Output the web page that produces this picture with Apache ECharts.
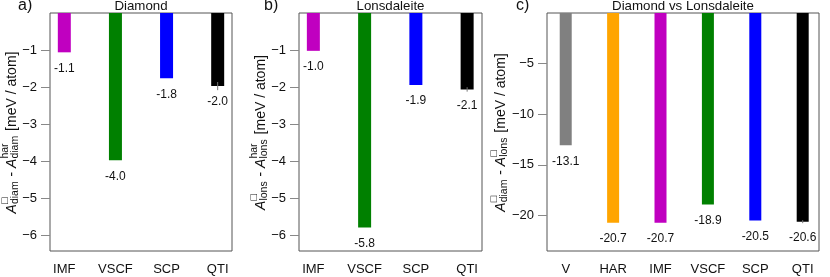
<!DOCTYPE html>
<html><head><meta charset="utf-8">
<script src="https://cdn.jsdelivr.net/npm/echarts@6/dist/echarts.min.js"></script>
<style>html,body{margin:0;padding:0;background:#fff}#c{width:830px;height:277px}</style>
</head><body><div id="c"></div>
<script>
// ---- data ----
const catsAB = ['IMF', 'VSCF', 'SCP', 'QTI'];
const catsC = ['V', 'HAR', 'IMF', 'VSCF', 'SCP', 'QTI'];
const diamondVals = [-1.06, -3.97, -1.76, -1.97];
const diamondErr = [0, 0, 0, 0.11];
const lonsVals = [-1.02, -5.78, -1.94, -2.06];
const lonsErr = [0, 0, 0, 0.06];
const diffVals = [-13.07, -20.7, -20.7, -18.9, -20.5, -20.6];
const diffErr = [0, 0, 0, 0, 0, 0.15];
const yTicksAB = [-1, -2, -3, -4, -5, -6];
const yTicksC = [-5, -10, -15, -20];
const panelTitles = ['Diamond', 'Lonsdaleite', 'Diamond vs Lonsdaleite'];
const panelTags = ['a)', 'b)', 'c)'];
const unitText = ' [meV / atom]';
const yTitleParts = [
  [{t: 'A', it: true}, {sup: '\u25A1', sub: 'diam'}, {t: ' - '}, {t: 'A', it: true}, {sup: 'har', sub: 'diam'}, {t: unitText}],
  [{t: 'A', it: true}, {sup: '\u25A1', sub: 'lons'}, {t: ' - '}, {t: 'A', it: true}, {sup: 'har', sub: 'lons'}, {t: unitText}],
  [{t: 'A', it: true}, {sup: '\u25A1', sub: 'diam'}, {t: ' - '}, {t: 'A', it: true}, {sup: '\u25A1', sub: 'lons'}, {t: unitText}]
];
const colorOf = {V: '#808080', HAR: '#FFA500', IMF: '#C000C0', VSCF: '#008000', SCP: '#0000FF', QTI: '#000000'};

// ---- layout ----
const FONT = '"Liberation Sans", Arial, sans-serif';
const TXT = '#111';
const panels = [
  {cats: catsAB, vals: diamondVals, errs: diamondErr, yt: yTicksAB, grid: {left: 50, top: 13, width: 182, height: 238}, xr: [0.72, 4.28], yr: [-6.415, 0], bw: 13},
  {cats: catsAB, vals: lonsVals, errs: lonsErr, yt: yTicksAB, grid: {left: 299, top: 13, width: 183, height: 238}, xr: [0.72, 4.29], yr: [-6.415, 0], bw: 13},
  {cats: catsC, vals: diffVals, errs: diffErr, yt: yTicksC, grid: {left: 547, top: 13, width: 272, height: 238}, xr: [0.605, 6.344], yr: [-23.5, 0], bw: 12}
];
const titleBase = [17, 266, 506];
const tagPos = [[18, 6], [264, 6], [516, 6]];

const cvs = document.createElement('canvas').getContext('2d');
function tw(text, fs, it) { cvs.font = (it ? 'italic ' : '') + fs + 'px ' + FONT; return cvs.measureText(text).width; }

function yTitle(parts, xb, yc) {
  const MF = 14, SF = 10.5, SUPDY = -8, SUBDY = 1.5;
  const items = []; let x = 0;
  parts.forEach(p => {
    if (p.t !== undefined) {
      items.push({text: p.t, x: x, dy: 0, fs: MF, it: !!p.it});
      x += tw(p.t, MF, p.it);
    } else {
      items.push({text: p.sup, x: x, dy: SUPDY, fs: SF, it: false});
      items.push({text: p.sub, x: x, dy: SUBDY, fs: SF, it: false});
      x += Math.max(tw(p.sup, SF), tw(p.sub, SF)) + 1;
    }
  });
  const W = x;
  return {
    type: 'group', x: xb, y: yc, rotation: Math.PI / 2,
    children: items.map(o => ({
      type: 'text', x: o.x - W / 2, y: o.dy - 0.35 * o.fs,
      style: {text: o.text, fontSize: o.fs, fontFamily: FONT, fontStyle: o.it ? 'italic' : 'normal', fill: TXT, align: 'left', verticalAlign: 'middle'}
    }))
  };
}

const option = {animation: false, grid: [], xAxis: [], yAxis: [], series: [], graphic: []};
panels.forEach((P, i) => {
  option.grid.push(Object.assign({show: true, borderColor: '#555', borderWidth: 1, backgroundColor: 'transparent'}, P.grid));
  const idx = P.cats.map((c, k) => k + 1);
  option.xAxis.push({
    gridIndex: i, type: 'value', min: P.xr[0], max: P.xr[1],
    axisLine: {show: false}, splitLine: {show: false},
    axisTick: {show: true, length: 9, lineStyle: {color: '#888'}, customValues: idx},
    axisLabel: {customValues: idx, formatter: v => P.cats[Math.round(v) - 1], margin: 12, fontSize: 13, color: TXT, fontFamily: FONT}
  });
  option.yAxis.push({
    gridIndex: i, type: 'value', min: P.yr[0], max: P.yr[1],
    axisLine: {show: false}, splitLine: {show: false},
    axisTick: {show: true, length: 9, lineStyle: {color: '#888'}, customValues: P.yt},
    axisLabel: {customValues: P.yt, formatter: v => '\u2212' + Math.abs(v), margin: 13, fontSize: 13, color: TXT, fontFamily: FONT}
  });
  option.series.push({
    type: 'bar', xAxisIndex: i, yAxisIndex: i, barWidth: P.bw,
    data: P.vals.map((v, k) => ({value: [k + 1, v], itemStyle: {color: colorOf[P.cats[k]]}})),
    label: {show: true, position: 'bottom', distance: 10, fontSize: 12, color: TXT, fontFamily: FONT,
      formatter: p => '-' + Math.abs(p.value[1]).toFixed(1)}
  });
  option.series.push({
    type: 'custom', xAxisIndex: i, yAxisIndex: i, z: 5,
    data: P.errs.map((e, k) => [k + 1, P.vals[k], e]).filter(d => d[2] > 0),
    renderItem: (params, api) => {
      const x = api.value(0), v = api.value(1), e = api.value(2);
      const a = api.coord([x, v + e]), b = api.coord([x, v - e]);
      return {type: 'line', shape: {x1: a[0], y1: a[1], x2: b[0], y2: b[1]}, style: {stroke: '#777', lineWidth: 1}};
    }
  });
  option.graphic.push({
    type: 'text', x: P.grid.left + P.grid.width / 2, y: 6.5,
    style: {text: panelTitles[i], fontSize: 13.3, fontFamily: FONT, fill: TXT, align: 'center', verticalAlign: 'middle'}
  });
  option.graphic.push({
    type: 'text', x: tagPos[i][0], y: tagPos[i][1],
    style: {text: panelTags[i], fontSize: 16, fontFamily: FONT, fill: TXT, align: 'left', verticalAlign: 'middle'}
  });
  option.graphic.push(yTitle(yTitleParts[i], titleBase[i], 132.5));
});

const chart = echarts.init(document.getElementById('c'), null, {renderer: 'canvas'});
chart.setOption(option);
</script></body></html>
